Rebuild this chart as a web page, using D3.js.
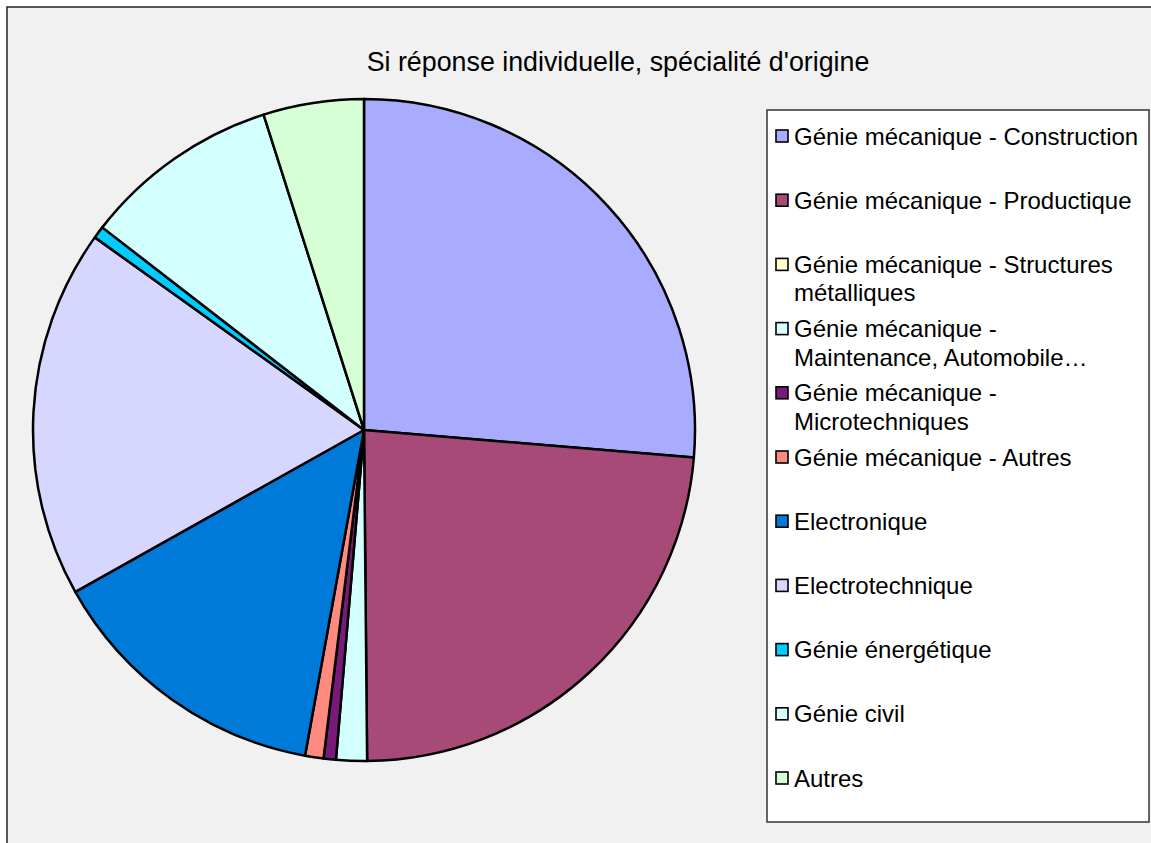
<!DOCTYPE html>
<html lang="fr">
  <head>
    <meta charset="utf-8">
    <title>Si réponse individuelle, spécialité d'origine</title>
    <style>
      body { margin: 0; background: #fff; }
      text { font-family: "Liberation Sans", Arial, sans-serif; fill: #000; }
    </style>
    <script src="https://cdn.jsdelivr.net/npm/d3@7"></script>
  </head>
  <body>
  <svg width="1151" height="843"></svg>
  <script>
// data (percent)
var categories = [
  "Génie mécanique - Construction",
  "Génie mécanique - Productique",
  "Génie mécanique - Structures métalliques",
  "Génie mécanique - Maintenance, Automobile…",
  "Génie mécanique - Microtechniques",
  "Génie mécanique - Autres",
  "Electronique",
  "Electrotechnique",
  "Génie énergétique",
  "Génie civil",
  "Autres"
];
var values = [26.3, 23.5, 0, 1.5, 0.6, 0.9, 14.0, 18.0, 0.6, 9.6, 4.9];
// legend labels broken into lines as in the picture
var legendLines = [
  ["Génie mécanique - Construction"],
  ["Génie mécanique - Productique"],
  ["Génie mécanique - Structures", "métalliques"],
  ["Génie mécanique -", "Maintenance, Automobile…"],
  ["Génie mécanique -", "Microtechniques"],
  ["Génie mécanique - Autres"],
  ["Electronique"],
  ["Electrotechnique"],
  ["Génie énergétique"],
  ["Génie civil"],
  ["Autres"]
];
var colors = ["#a9abff", "#a84a78", "#ffffcc", "#d4ffff", "#781a7a", "#ff8a80",
              "#007ad8", "#d6d6ff", "#00ccff", "#d4ffff", "#d6ffd6"];

var svg = d3.select("svg");

// chart area background + frame
svg.append("rect")
    .attr("x", 7).attr("y", 7)
    .attr("width", 1200).attr("height", 900)
    .attr("fill", "#f1f1f1")
    .attr("stroke", "#222")
    .attr("stroke-width", 1.5);

svg.append("text")
    .attr("x", 618).attr("y", 71)
    .attr("text-anchor", "middle")
    .style("font-size", "26.8px")
    .text("Si réponse individuelle, spécialité d'origine");

// pie
var cx = 364, cy = 430, r = 331;
var color = d3.scaleOrdinal().domain(categories).range(colors);
var pie = d3.pie().sort(null).value(function(d) { return d.value; });
var arc = d3.arc().innerRadius(0).outerRadius(r);
var data = categories.map(function(c, i) { return {name: c, value: values[i]}; });

var g = svg.append("g").attr("transform", "translate(" + cx + "," + cy + ")");
g.selectAll("path")
    .data(pie(data).filter(function(d) { return d.data.value > 0; }))
    .enter()
    .append("path")
    .attr("d", arc)
    .attr("fill", function(d) { return color(d.data.name); })
    .attr("stroke", "#000")
    .attr("stroke-width", 2.5)
    .attr("stroke-linejoin", "round");

// legend
var lx = 767, ly = 110;
svg.append("rect")
    .attr("x", lx).attr("y", ly)
    .attr("width", 382).attr("height", 712)
    .attr("fill", "#fff")
    .attr("stroke", "#333")
    .attr("stroke-width", 1.5);

var rowY = d3.scalePoint().domain(categories).range([136, 778]);

var items = svg.selectAll(".item")
    .data(categories)
    .enter()
    .append("g")
    .attr("class", "item")
    .attr("transform", function(d) { return "translate(0," + rowY(d) + ")"; });

items.append("rect")
    .attr("x", 776).attr("y", -6)
    .attr("width", 12).attr("height", 12)
    .attr("fill", function(d) { return color(d); })
    .attr("stroke", "#000")
    .attr("stroke-width", 1.6);

items.each(function(d, i) {
  var t = d3.select(this).append("text")
      .attr("x", 794).attr("y", 8.5)
      .style("font-size", "24px");
  legendLines[i].forEach(function(line, j) {
    t.append("tspan")
        .attr("x", 794)
        .attr("dy", j === 0 ? 0 : 28.5)
        .text(line);
  });
});
  </script>
  </body>
</html>
